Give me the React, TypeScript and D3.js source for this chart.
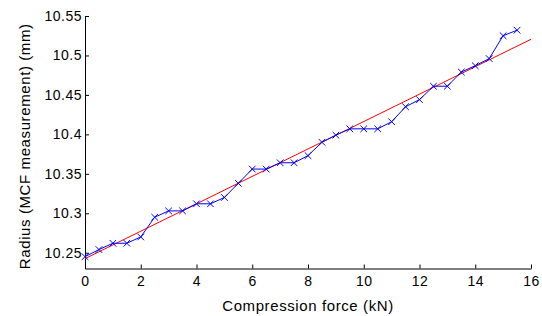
import * as d3 from 'd3'
import { useEffect, useRef } from 'react'

// measured radius, every 0.5 kN
const force = [
  0, 0.5, 1, 1.5, 2, 2.5, 3, 3.5, 4, 4.5, 5, 5.5, 6, 6.5, 7, 7.5,
  8, 8.5, 9, 9.5, 10, 10.5, 11, 11.5, 12, 12.5, 13, 13.5, 14, 14.5, 15, 15.5
]
const radius = [
  10.245, 10.254, 10.262, 10.262, 10.270, 10.295, 10.303, 10.303, 10.312, 10.312, 10.320, 10.338,
  10.356, 10.356, 10.364, 10.364, 10.373, 10.390, 10.399, 10.407, 10.407, 10.407, 10.416, 10.435,
  10.444, 10.461, 10.461, 10.479, 10.487, 10.496, 10.525, 10.532
]

// linear fit
const fitX = [0, 16]
const fitY = [10.2425, 10.5205]

const xTicks = [0, 2, 4, 6, 8, 10, 12, 14, 16]
const yTicks = [10.25, 10.3, 10.35, 10.4, 10.45, 10.5, 10.55]
const yTickLabels = ['10.25', '10.3', '10.35', '10.4', '10.45', '10.5', '10.55']

const App = () => {
  const ref = useRef<SVGSVGElement>(null)

  useEffect(() => {
    if (!ref.current) return
    const svg = d3.select(ref.current)
    svg.selectAll('*').remove()

    const width = 542
    const height = 316
    const left = 85
    const right = 531
    const top = 16
    const bottom = 268.5
    const font = "'Liberation Sans', Arial, Helvetica, sans-serif"

    const x = d3.scaleLinear().domain([0, 16]).range([left, right])
    const y = d3.scaleLinear().domain([10.23, 10.55]).range([bottom, top])

    svg.attr('width', width).attr('height', height)
    svg.append('rect').attr('width', width).attr('height', height).attr('fill', '#fff')

    // axes (MATLAB style, ticks inside)
    const xAxis = svg.append('g')
      .attr('transform', `translate(0,${bottom})`)
      .call(d3.axisBottom(x).tickValues(xTicks).tickSizeInner(-4).tickSizeOuter(0).tickPadding(8).tickFormat(d3.format('d')))
    xAxis.select('.domain').attr('stroke', '#000')
    xAxis.selectAll('line').attr('stroke', '#000')
    xAxis.selectAll('text')
      .attr('fill', '#000')
      .style('font-family', font)
      .style('font-size', '14px')
      .style('letter-spacing', '0.5px')

    const yAxis = svg.append('g')
      .attr('transform', `translate(${left},0)`)
      .call(d3.axisLeft(y).tickValues(yTicks).tickSizeInner(-4).tickSizeOuter(0).tickPadding(3)
        .tickFormat((d, i) => yTickLabels[i]))
    yAxis.select('.domain').attr('stroke', '#000')
    yAxis.selectAll('line').attr('stroke', '#000')
    yAxis.selectAll('text')
      .attr('fill', '#000')
      .style('font-family', font)
      .style('font-size', '14px')
      .style('letter-spacing', '0.5px')

    // fit line
    const fit = fitX.map((d, i) => [d, fitY[i]] as [number, number])
    svg.append('path')
      .datum(fit)
      .attr('fill', 'none')
      .attr('stroke', '#ff0000')
      .attr('stroke-width', 1)
      .attr('d', d3.line().x(d => x(d[0])).y(d => y(d[1])))

    // measured data
    const pts = force.map((d, i) => [d, radius[i]] as [number, number])
    svg.append('path')
      .datum(pts)
      .attr('fill', 'none')
      .attr('stroke', '#0000ff')
      .attr('stroke-width', 1)
      .attr('d', d3.line().x(d => x(d[0])).y(d => y(d[1])))

    const s = 3.3
    svg.append('g')
      .selectAll('path')
      .data(pts)
      .enter()
      .append('path')
      .attr('fill', 'none')
      .attr('stroke', '#0000ff')
      .attr('stroke-width', 1)
      .attr('d', d => {
        const cx = x(d[0])
        const cy = y(d[1])
        return `M${cx - s},${cy - s}L${cx + s},${cy + s}M${cx - s},${cy + s}L${cx + s},${cy - s}`
      })

    // labels
    svg.append('text')
      .attr('x', (left + right) / 2)
      .attr('y', 310.5)
      .attr('text-anchor', 'middle')
      .style('font-family', font)
      .style('font-size', '15px')
      .style('letter-spacing', '0.6px')
      .text('Compression force (kN)')

    svg.append('text')
      .attr('transform', `translate(30,${(top + bottom) / 2 + 4}) rotate(-90)`)
      .attr('text-anchor', 'middle')
      .style('font-family', font)
      .style('font-size', '15px')
      .style('letter-spacing', '0.6px')
      .text('Radius (MCF measurement) (mm)')
  }, [])

  return (
    <div style={{ position: 'absolute', left: 0, top: 0 }}>
      <svg ref={ref} style={{ display: 'block' }} />
    </div>
  )
}

export default App
